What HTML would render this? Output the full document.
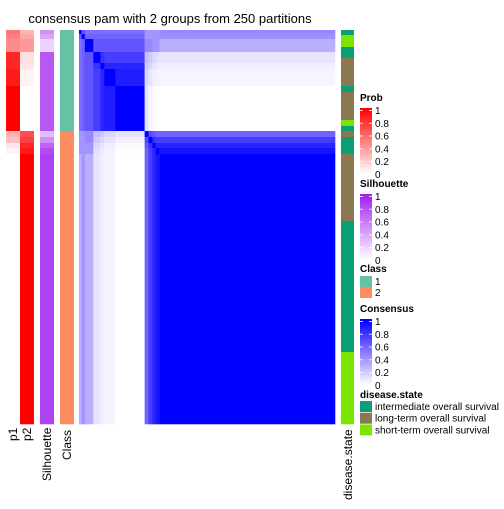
<!DOCTYPE html>
<html><head><meta charset="utf-8">
<style>
body{margin:0;background:#fff;font-family:"Liberation Sans",sans-serif;}
svg text{font-family:"Liberation Sans",sans-serif;}
</style></head>
<body>
<svg id="c" width="504" height="504" xmlns="http://www.w3.org/2000/svg">
<text x="170" y="23" font-size="13" text-anchor="middle">consensus pam with 2 groups from 250 partitions</text>
</svg>
<script>
const groupNames=["A","B","C","D","E","F","G","H","I","J","K","L"];
const groupSizes=[4,5,13,11,6,17,45,6,6,5,6,270];
const p1Values=[0.55,0.5,0.45,0.85,0.85,0.9,1,0.3,0.25,0.1,0.05,0];
const p2Values=[0.3,0.35,0.4,0.12,0.1,0.05,0,0.7,0.75,0.85,0.9,1];
const silValues=[0.5,0.4,0.2,0.75,0.75,0.75,0.75,0.3,0.5,0.7,0.8,0.85];
const classValues=[1,1,1,1,1,1,1,2,2,2,2,2];
const consensus=[
[1,0.65,0.55,0.55,0.55,0.55,0.55,0.4,0.4,0.4,0.4,0.45],
[0.65,1,0.6,0.6,0.6,0.6,0.6,0.4,0.4,0.4,0.4,0.42],
[0.55,0.6,1,0.65,0.65,0.65,0.65,0.45,0.45,0.4,0.4,0.3],
[0.55,0.6,0.65,1,0.8,0.75,0.75,0.25,0.2,0.15,0.12,0.1],
[0.55,0.6,0.65,0.8,1,0.85,0.85,0.2,0.15,0.1,0.08,0.06],
[0.55,0.6,0.65,0.75,0.85,1,0.88,0.15,0.1,0.06,0.05,0.04],
[0.55,0.6,0.65,0.75,0.85,0.88,1,0.1,0.05,0.02,0.01,0],
[0.4,0.4,0.45,0.25,0.2,0.15,0.1,1,0.7,0.65,0.6,0.6],
[0.4,0.4,0.45,0.2,0.15,0.1,0.05,0.7,1,0.8,0.75,0.75],
[0.4,0.4,0.4,0.15,0.1,0.06,0.02,0.65,0.8,1,0.85,0.85],
[0.4,0.4,0.4,0.12,0.08,0.05,0.01,0.6,0.75,0.85,1,0.92],
[0.3,0.4,0.3,0.1,0.06,0.04,0,0.6,0.75,0.85,0.92,1]];
const diseaseStates=["int","short","int","long","int","long","short","int","long","int","long","int","short"];
const diseaseSizes=[5,12,11,28,6,28,6,5,6,17,67,131,72];
const diseaseColors={int:"#0A9E74",long:"#8B7752",short:"#7AE600"};
const classColors={1:"#66C2A5",2:"#FC8D62"};

const svg=document.getElementById('c');
const NS="http://www.w3.org/2000/svg";
const top0=30,H=394,hmX=79,hmW=256;
const total=groupSizes.reduce((a,b)=>a+b,0);
function yScale(n){return top0+n/total*H;}
function xScale(n){return hmX+n/total*hmW;}
function lerp(a,b,t){return Math.round(a+(b-a)*t);}
function redCol(v){return `rgb(255,${lerp(255,0,v)},${lerp(255,0,v)})`;}
function purpCol(v){return `rgb(${lerp(255,160,v)},${lerp(255,32,v)},${lerp(255,240,v)})`;}
function blueCol(v){if(v<0.5){const t=v/0.5;return `rgb(${lerp(255,140,t)},${lerp(255,122,t)},255)`;}
 const t=(v-0.5)/0.5;return `rgb(${lerp(140,0,t)},${lerp(122,0,t)},255)`;}
function rect(x,y,w,h,f,name){const r=document.createElementNS(NS,'rect');
 r.setAttribute('x',x);r.setAttribute('y',y);r.setAttribute('width',w);r.setAttribute('height',h);r.setAttribute('fill',f);
 
 
 svg.appendChild(r);return r;}
function text(x,y,s,size,opts){const t=document.createElementNS(NS,'text');
 t.setAttribute('x',x);t.setAttribute('y',y);t.setAttribute('font-size',size);t.textContent=s;
 if(opts&&opts.bold)t.setAttribute('font-weight','bold');
 if(opts&&opts.rot)t.setAttribute('transform',`rotate(-90 ${x} ${y})`);
 if(opts&&opts.anchor)t.setAttribute('text-anchor',opts.anchor);
 
 
 svg.appendChild(t);return t;}

let cum=[0];groupSizes.forEach(s=>cum.push(cum[cum.length-1]+s));
for(let i=0;i<groupSizes.length;i++){
 const y0=yScale(cum[i]),y1=yScale(cum[i+1]);
 rect(6,y0,14,y1-y0+0.3,redCol(p1Values[i]),'p1-cell');
 rect(20,y0,14,y1-y0+0.3,redCol(p2Values[i]),'p2-cell');
 rect(40,y0,14,y1-y0+0.3,purpCol(silValues[i]),'silhouette-cell');
 rect(60,y0,14,y1-y0+0.3,classColors[classValues[i]],'class-cell');
 for(let j=0;j<groupSizes.length;j++){
  const x0=xScale(cum[j]),x1=xScale(cum[j+1]);
  rect(x0,y0,x1-x0+0.3,y1-y0+0.3,blueCol(consensus[i][j]),'consensus-cell');
 }
}
let dc=0;
for(let i=0;i<diseaseStates.length;i++){
 const y0=yScale(dc),y1=yScale(dc+diseaseSizes[i]);
 rect(341,y0,13,y1-y0+0.3,diseaseColors[diseaseStates[i]],'disease-state-cell');
 dc+=diseaseSizes[i];
}
text(17,441,'p1',12,{rot:1,name:'p1-label'});
text(31,441,'p2',12,{rot:1,name:'p2-label'});
text(51,481,'Silhouette',12,{rot:1,name:'silhouette-label'});
text(71,460,'Class',12,{rot:1,name:'class-label'});
text(352,500,'disease.state',12,{rot:1,name:'disease-state-label'});

const tickLabels=["1","0.8","0.6","0.4","0.2","0"];
function colorbar(title,ty,fn,name){
 text(360,ty,title,10,{bold:1,name:name+'-legend-title'});
 const by=ty+7,bh=67;
 for(let k=0;k<40;k++){rect(360,by+k*bh/40,12,bh/40+0.4,fn(1-k/39),name+'-legend-bar');}
 tickLabels.forEach((l,k)=>{const yy=by+2+k*12.8;
  text(375,yy+4,l,10,{name:name+'-legend-tick'});
  rect(360,yy,3,0.8,'#fff',name+'-tick-mark');rect(369,yy,3,0.8,'#fff',name+'-tick-mark');});
}
colorbar('Prob',101,redCol,'prob');
colorbar('Silhouette',187,purpCol,'silhouette');
text(360,272,'Class',10,{bold:1,name:'class-legend-title'});
rect(360,276,12,11,classColors[1],'class-legend-swatch');text(375,285,'1',10,{name:'class-legend-label'});
rect(360,287,12,11,classColors[2],'class-legend-swatch');text(375,296,'2',10,{name:'class-legend-label'});
colorbar('Consensus',312,blueCol,'consensus');
text(360,398,'disease.state',10,{bold:1,name:'disease-legend-title'});
const dl=[["int","intermediate overall survival"],["long","long-term overall survival"],["short","short-term overall survival"]];
dl.forEach((d,k)=>{rect(360,401+k*11.7,12,11,diseaseColors[d[0]],'disease-legend-swatch');
 text(375,410+k*11.7,d[1],10,{name:'disease-legend-label'});});
</script>
</body></html>
